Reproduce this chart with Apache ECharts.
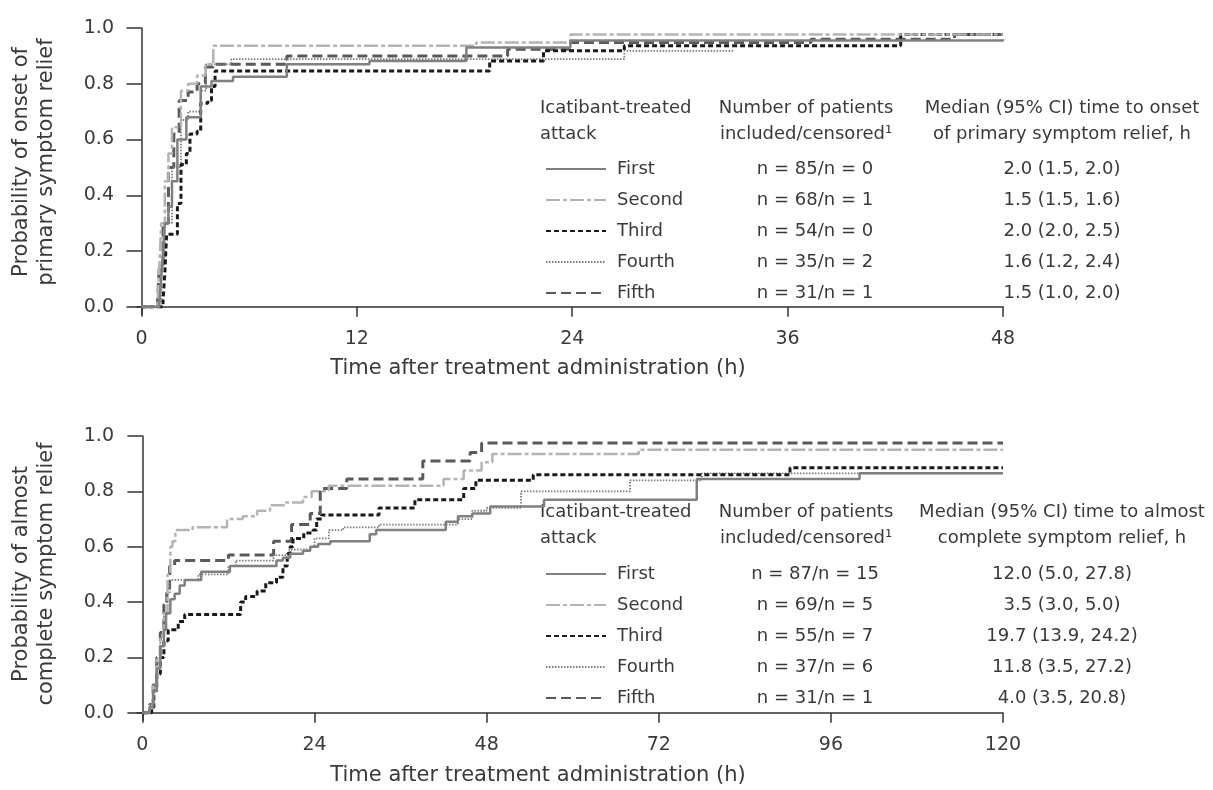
<!DOCTYPE html>
<html>
<head>
<meta charset="utf-8">
<script src="https://cdn.jsdelivr.net/npm/echarts@6/dist/echarts.min.js"></script>
<style>
html, body { margin: 0; padding: 0; background: #fff; }
#chart { width: 1213px; height: 790px; }
</style>
</head>
<body>
<div id="chart"></div>
<script>
'use strict';

var attacks = ['First', 'Second', 'Third', 'Fourth', 'Fifth'];

var onsetCounts = ['n = 85/n = 0', 'n = 68/n = 1', 'n = 54/n = 0', 'n = 35/n = 2', 'n = 31/n = 1'];
var onsetMedians = ['2.0 (1.5, 2.0)', '1.5 (1.5, 1.6)', '2.0 (2.0, 2.5)', '1.6 (1.2, 2.4)', '1.5 (1.0, 2.0)'];
var reliefCounts = ['n = 87/n = 15', 'n = 69/n = 5', 'n = 55/n = 7', 'n = 37/n = 6', 'n = 31/n = 1'];
var reliefMedians = ['12.0 (5.0, 27.8)', '3.5 (3.0, 5.0)', '19.7 (13.9, 24.2)', '11.8 (3.5, 27.2)', '4.0 (3.5, 20.8)'];

var onsetTicks = [0, 12, 24, 36, 48];
var reliefTicks = [0, 24, 48, 72, 96, 120];
var probTicks = [0, 0.2, 0.4, 0.6, 0.8, 1.0];

// time to onset of primary symptom relief: [hours, probability]
var onsetFirst = [[0, 0], [1.0, 0.02], [1.1, 0.1], [1.2, 0.2], [1.3, 0.3], [1.5, 0.36], [1.7, 0.45], [2.0, 0.6],
  [2.5, 0.68], [3.3, 0.79], [3.9, 0.81], [5.1, 0.825], [8.1, 0.87], [12.7, 0.882], [18.1, 0.93], [23.9, 0.955], [48, 0.96]];
var onsetSecond = [[0, 0], [0.9, 0.02], [1.0, 0.15], [1.1, 0.3], [1.3, 0.45], [1.5, 0.55], [1.7, 0.644], [2.2, 0.775],
  [2.6, 0.8], [3.1, 0.83], [3.56, 0.87], [4.0, 0.936], [18.65, 0.948], [23.9, 0.977], [48, 0.977]];
var onsetThird = [[0, 0], [1.2, 0.02], [1.3, 0.12], [1.4, 0.26], [2.0, 0.37], [2.2, 0.51], [2.5, 0.55], [2.7, 0.62],
  [3.1, 0.63], [3.3, 0.73], [3.7, 0.74], [3.9, 0.79], [4.1, 0.846], [19.4, 0.882], [22.4, 0.918], [26.9, 0.936],
  [42.3, 0.977], [48, 0.977]];
var onsetFourth = [[0, 0], [0.9, 0.02], [1.1, 0.15], [1.3, 0.3], [1.7, 0.5], [2.2, 0.67], [2.6, 0.7], [3.3, 0.775],
  [3.6, 0.87], [5.0, 0.888], [26.9, 0.918], [33, 0.918]];
var onsetFifth = [[0, 0], [0.9, 0.03], [1.0, 0.15], [1.2, 0.3], [1.5, 0.5], [1.8, 0.62], [2.1, 0.74], [2.6, 0.77],
  [3.1, 0.8], [3.56, 0.86], [4.0, 0.87], [8.1, 0.9], [20.4, 0.924], [23.9, 0.948], [37.3, 0.96], [45.3, 0.977], [48, 0.977]];

// time to almost complete symptom relief: [hours, probability]
var reliefFirst = [[0, 0], [1.0, 0.02], [1.5, 0.08], [2.0, 0.16], [2.5, 0.24], [3.0, 0.3], [3.3, 0.36], [3.9, 0.41],
  [4.5, 0.43], [5.2, 0.46], [5.9, 0.48], [8.2, 0.51], [12.2, 0.53], [18.7, 0.55], [19.6, 0.56], [20.6, 0.575],
  [22.4, 0.585], [23.4, 0.6], [24.5, 0.61], [26.2, 0.62], [31.7, 0.645], [32.6, 0.66], [42.3, 0.69], [44, 0.71],
  [46, 0.72], [48.5, 0.745], [56, 0.77], [77.3, 0.845], [100, 0.865], [120, 0.865]];
var reliefSecond = [[0, 0], [1.0, 0.03], [1.5, 0.1], [2.0, 0.2], [2.5, 0.28], [3.0, 0.36], [3.5, 0.5], [3.9, 0.6],
  [4.2, 0.62], [4.6, 0.66], [7, 0.67], [11.8, 0.7], [14, 0.71], [16, 0.73], [17.8, 0.75], [20, 0.76], [22.4, 0.78],
  [23.6, 0.8], [26, 0.82], [42, 0.845], [44.8, 0.875], [47.3, 0.905], [48.8, 0.935], [69.2, 0.95], [120, 0.95]];
var reliefThird = [[0, 0], [1.3, 0.02], [1.6, 0.08], [2.0, 0.14], [2.5, 0.2], [3.0, 0.26], [3.6, 0.3], [5.0, 0.33],
  [5.9, 0.355], [13.7, 0.4], [14.4, 0.42], [16, 0.44], [17.2, 0.47], [18.7, 0.49], [19.6, 0.53], [20.2, 0.575],
  [20.6, 0.6], [21, 0.63], [22.5, 0.65], [23.8, 0.66], [24.3, 0.7], [25, 0.715], [33, 0.74], [38, 0.77],
  [44.8, 0.81], [46.5, 0.84], [54.5, 0.86], [90.3, 0.885], [120, 0.885]];
var reliefFourth = [[0, 0], [1.0, 0.03], [1.5, 0.1], [2.0, 0.18], [2.5, 0.27], [3.0, 0.35], [3.5, 0.43], [3.8, 0.48],
  [7.8, 0.5], [12, 0.53], [13, 0.55], [18.3, 0.57], [20.5, 0.59], [23.5, 0.6], [24, 0.63], [26, 0.66], [28, 0.67],
  [33, 0.68], [44, 0.7], [46, 0.73], [48, 0.74], [52.8, 0.8], [68, 0.84], [78, 0.865], [120, 0.865]];
var reliefFifth = [[0, 0], [1.0, 0.03], [1.5, 0.1], [2.0, 0.2], [2.5, 0.29], [3.0, 0.39], [3.4, 0.45], [3.8, 0.53],
  [4.5, 0.55], [12, 0.57], [18.3, 0.62], [20.8, 0.68], [23.4, 0.72], [24.8, 0.81], [28.5, 0.845], [39.1, 0.91],
  [45.7, 0.94], [47.3, 0.975], [120, 0.975]];

var onsetData = [onsetFirst, onsetSecond, onsetThird, onsetFourth, onsetFifth];
var reliefData = [reliefFirst, reliefSecond, reliefThird, reliefFourth, reliefFifth];

var lineStyles = [
  { color: '#808080', width: 2.5, type: 'solid' },
  { color: '#b4b4b4', width: 2.5, type: [14, 3, 4, 3] },
  { color: '#1a1a1a', width: 3, type: [5, 3] },
  { color: '#7a7a7a', width: 1.8, type: [1.5, 1.5] },
  { color: '#5a5a5a', width: 3, type: [10, 5] }
];

var textColor = '#3a3a3a';
var fontFamily = '"DejaVu Sans", sans-serif';
var legendSize = 18;

var makeSeries = function(prefix, datasets, idx) {
  return datasets.map(function(d, i) {
    return {
      name: prefix + attacks[i],
      type: 'line',
      step: 'end',
      xAxisIndex: idx,
      yAxisIndex: idx,
      symbol: 'none',
      showSymbol: false,
      silent: true,
      z: 10 - i,
      lineStyle: lineStyles[i],
      itemStyle: { color: lineStyles[i].color },
      data: d
    };
  });
};

var makeLegend = function(prefix, counts, medians, top) {
  return {
    orient: 'vertical',
    left: 540,
    top: top,
    itemWidth: 60,
    itemHeight: 20,
    itemGap: 13,
    selectedMode: false,
    itemStyle: { opacity: 0 },
    data: attacks.map(function(a) { return prefix + a; }),
    formatter: function(name) {
      var i = attacks.indexOf(name.slice(prefix.length));
      return '{a|' + attacks[i] + '}{b|' + counts[i] + '}{c|' + medians[i] + '}';
    },
    textStyle: {
      color: textColor,
      fontFamily: fontFamily,
      fontSize: legendSize,
      rich: {
        a: { width: 98, padding: [0, 0, 0, 6], fontSize: legendSize, fontFamily: fontFamily, color: textColor },
        b: { width: 200, align: 'center', fontSize: legendSize, fontFamily: fontFamily, color: textColor },
        c: { width: 294, align: 'center', fontSize: legendSize, fontFamily: fontFamily, color: textColor }
      }
    }
  };
};

var makeXAxis = function(idx, min, max, ticks) {
  return {
    type: 'value',
    gridIndex: idx,
    min: min,
    max: max,
    splitLine: { show: false },
    axisLine: { lineStyle: { color: '#333', width: 1.5 } },
    axisTick: { length: 10, customValues: ticks, lineStyle: { color: '#333', width: 1.5 } },
    axisLabel: { customValues: ticks, margin: 16, color: textColor, fontSize: 19, fontFamily: fontFamily }
  };
};

var makeYAxis = function(idx) {
  return {
    type: 'value',
    gridIndex: idx,
    min: -0.026,
    max: 1,
    splitLine: { show: false },
    axisLine: { show: true, lineStyle: { color: '#333', width: 1.5 } },
    axisTick: { show: true, length: 15, customValues: probTicks, lineStyle: { color: '#333', width: 1.5 } },
    axisLabel: {
      customValues: probTicks, margin: 23, color: textColor, fontSize: 19, fontFamily: fontFamily,
      formatter: function(v) { return v.toFixed(1); }
    }
  };
};

var label = function(text, x, y, align, extra) {
  var el = {
    type: 'text',
    x: x,
    y: y,
    style: {
      text: text,
      fill: textColor,
      font: (extra && extra.size ? extra.size : legendSize) + 'px ' + fontFamily,
      textAlign: align,
      textVerticalAlign: 'middle',
      lineHeight: extra && extra.lineHeight ? extra.lineHeight : 26
    }
  };
  if (extra && extra.rotation) {
    el.rotation = extra.rotation;
  }
  return el;
};

var graphics = [
  label('Probability of onset of\nprimary symptom relief', 34, 162, 'center', { size: 21, lineHeight: 25, rotation: Math.PI / 2 }),
  label('Probability of almost\ncomplete symptom relief', 34, 574, 'center', { size: 21, lineHeight: 25, rotation: Math.PI / 2 }),
  label('Time after treatment administration (h)', 538, 369, 'center', { size: 21 }),
  label('Time after treatment administration (h)', 538, 776, 'center', { size: 21 }),
  label('Icatibant-treated\nattack', 540, 121, 'left'),
  label('Number of patients\nincluded/censored\u00b9', 806, 121, 'center'),
  label('Median (95% CI) time to onset\nof primary symptom relief, h', 1062, 121, 'center'),
  label('Icatibant-treated\nattack', 540, 525, 'left'),
  label('Number of patients\nincluded/censored\u00b9', 806, 525, 'center'),
  label('Median (95% CI) time to almost\ncomplete symptom relief, h', 1062, 525, 'center')
];

var chart = echarts.init(document.getElementById('chart'));

chart.setOption({
  animation: false,
  backgroundColor: '#fff',
  grid: [
    { left: 137, width: 866, top: 28, height: 286 },
    { left: 137, width: 866, top: 436, height: 284 }
  ],
  xAxis: [
    makeXAxis(0, -0.25, 48, onsetTicks),
    makeXAxis(1, -0.75, 120, reliefTicks)
  ],
  yAxis: [makeYAxis(0), makeYAxis(1)],
  legend: [
    makeLegend('onset-', onsetCounts, onsetMedians, 155),
    makeLegend('relief-', reliefCounts, reliefMedians, 560)
  ],
  graphic: graphics,
  series: makeSeries('onset-', onsetData, 0).concat(makeSeries('relief-', reliefData, 1))
});
</script>
</body>
</html>
